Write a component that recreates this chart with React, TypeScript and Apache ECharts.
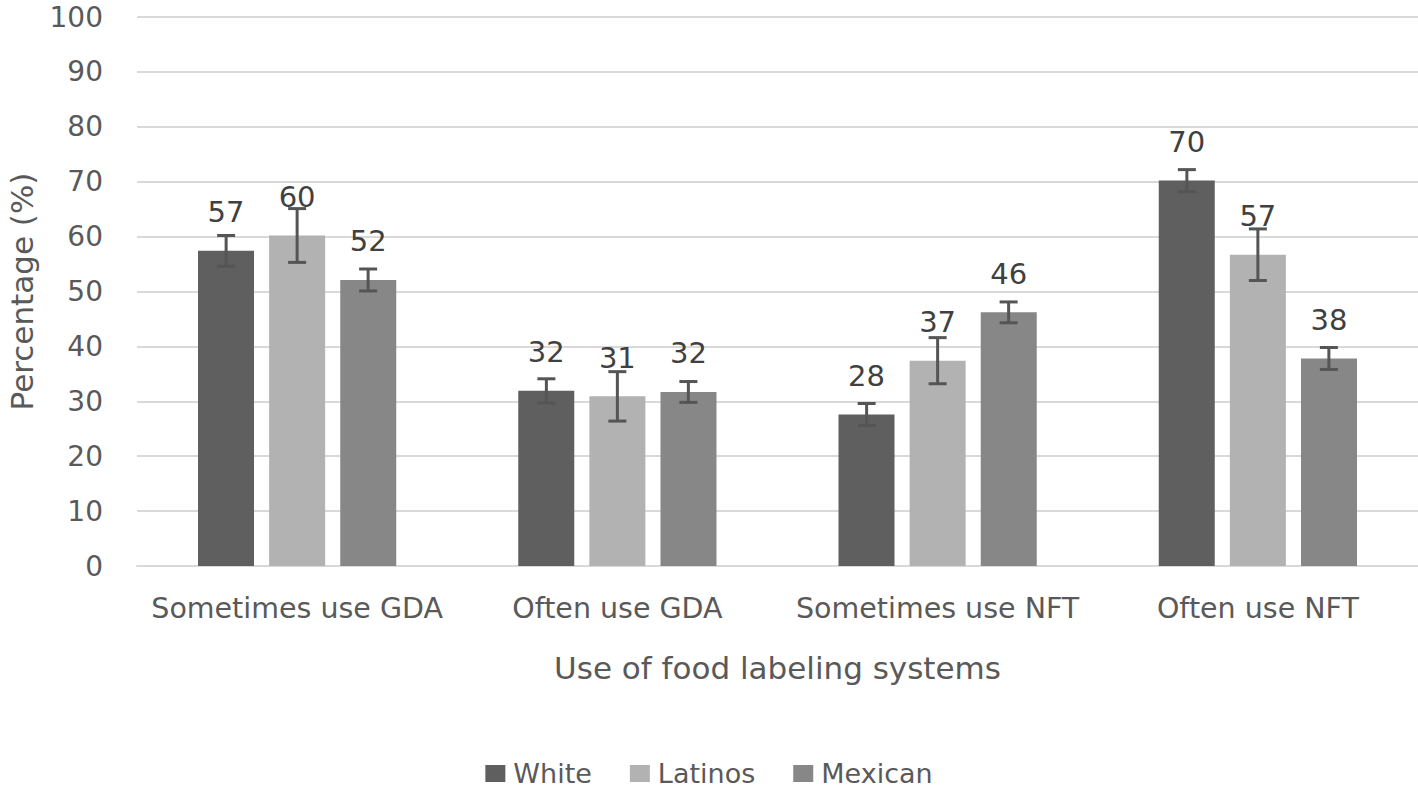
import React, { useEffect, useRef } from "react";
import * as echarts from "echarts";

const categories = ["Sometimes use GDA", "Often use GDA", "Sometimes use NFT", "Often use NFT"];
const seriesNames = ["White", "Latinos", "Mexican"];
const white = [57.4, 31.9, 27.6, 70.2];
const latinos = [60.2, 30.9, 37.4, 56.7];
const mexican = [52.1, 31.7, 46.2, 37.8];
const whiteErr = [2.8, 2.2, 2.0, 2.0];
const latinosErr = [4.9, 4.5, 4.2, 4.7];
const mexicanErr = [2.0, 1.9, 1.9, 2.0];
const yTicks = { min: 0, max: 100, interval: 10 };

const colors = ["#5f5f5f", "#b2b2b2", "#878787"];
const FONT = "DejaVu Sans";
const BAR_W = 56;
const BAR_STEP = 71;

export default function App() {
  const ref = useRef<HTMLDivElement>(null);
  useEffect(() => {
    const chart = echarts.init(ref.current!, null, { renderer: "svg" });
    const values = [white, latinos, mexican];
    const errs = [whiteErr, latinosErr, mexicanErr];
    const barSeries = values.map((vals, i) => ({
      name: seriesNames[i],
      type: "bar",
      data: vals,
      barWidth: BAR_W,
      barGap: "27%",
      itemStyle: { color: colors[i] },
      label: {
        show: true,
        position: "top",
        distance: 24,
        fontFamily: FONT,
        fontSize: 29,
        lineHeight: 29,
        color: "#404040",
        formatter: (p: any) => String(Math.round(p.value)),
      },
      z: 2,
    }));
    const errSeries = values.map((vals, i) => ({
      name: seriesNames[i] + " err",
      type: "custom",
      data: vals.map((v, k) => [k, v - errs[i][k], v + errs[i][k]]),
      encode: { x: 0, y: [1, 2] },
      z: 5,
      silent: true,
      renderItem: (params: any, api: any) => {
        const off = (i - 1) * BAR_STEP;
        const lo = api.coord([api.value(0), api.value(1)]);
        const hi = api.coord([api.value(0), api.value(2)]);
        const x = lo[0] + off;
        const cap = 9;
        const style = { stroke: "#555555", lineWidth: 3, fill: "none" };
        return {
          type: "group",
          children: [
            { type: "line", shape: { x1: x, y1: lo[1], x2: x, y2: hi[1] }, style },
            { type: "line", shape: { x1: x - cap, y1: lo[1], x2: x + cap, y2: lo[1] }, style },
            { type: "line", shape: { x1: x - cap, y1: hi[1], x2: x + cap, y2: hi[1] }, style },
          ],
        };
      },
    }));
    chart.setOption({
      animation: false,
      backgroundColor: "#ffffff",
      textStyle: { fontFamily: FONT },
      grid: {
        left: 137,
        right: 0,
        top: 17,
        bottom: 222,
        containLabel: false,
        outerBoundsMode: "none",
      },
      legend: {
        data: seriesNames,
        top: 760,
        left: "center",
        icon: "rect",
        itemWidth: 20,
        itemHeight: 17,
        itemGap: 38,
        padding: 0,
        textStyle: {
          fontFamily: FONT,
          fontSize: 27,
          lineHeight: 24,
          color: "#595959",
          padding: [0, 0, 0, 3],
        },
      },
      xAxis: {
        type: "category",
        data: categories,
        axisTick: { show: false },
        axisLine: { lineStyle: { color: "#d9d9d9", width: 2 } },
        axisLabel: {
          interval: 0,
          fontFamily: FONT,
          fontSize: 28.5,
          color: "#595959",
          margin: 28,
        },
        name: "Use of food labeling systems",
        nameLocation: "middle",
        nameGap: 86,
        nameTextStyle: { fontFamily: FONT, fontSize: 31, color: "#595959" },
      },
      yAxis: {
        type: "value",
        min: yTicks.min,
        max: yTicks.max,
        interval: yTicks.interval,
        axisLine: { show: false },
        axisTick: { show: false },
        splitLine: { lineStyle: { color: "#d9d9d9", width: 2 } },
        axisLabel: {
          fontFamily: FONT,
          fontSize: 28,
          lineHeight: 24,
          color: "#595959",
          margin: 34,
        },
        name: "Percentage (%)",
        nameLocation: "middle",
        nameGap: 100,
        nameRotate: 90,
        nameTextStyle: { fontFamily: FONT, fontSize: 31, color: "#595959" },
      },
      series: [...barSeries, ...errSeries],
    });
    return () => chart.dispose();
  }, []);
  return (
    <div
      ref={ref}
      style={{ position: "fixed", left: 0, top: 0, width: 1418, height: 788 }}
    />
  );
}
